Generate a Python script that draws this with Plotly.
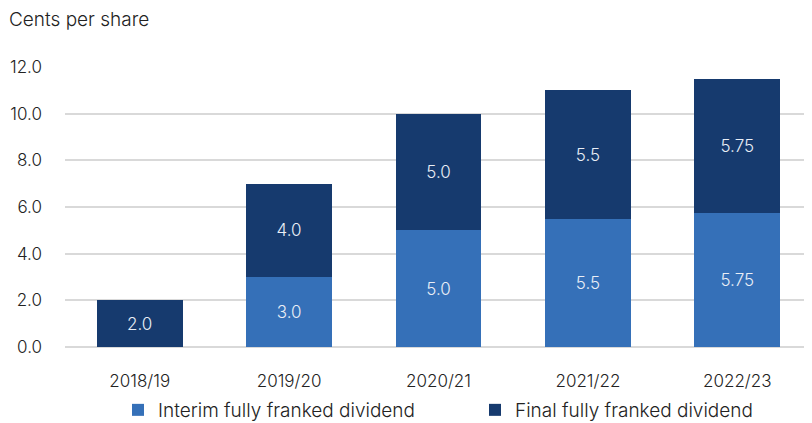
import plotly.graph_objects as go

categories = ["2018/19", "2019/20", "2020/21", "2021/22", "2022/23"]
interim = [None, 3.0, 5.0, 5.5, 5.75]
final = [2.0, 4.0, 5.0, 5.5, 5.75]
interim_labels = ["", "3.0", "5.0", "5.5", "5.75"]
final_labels = ["2.0", "4.0", "5.0", "5.5", "5.75"]
y_ticks = [0, 2, 4, 6, 8, 10, 12]

FONT = "Inter, Roboto, sans-serif"
C_INT = "#3570B8"
C_FIN = "#163A6E"
TXT = "#E9EEF6"
INK = "#222222"

fig = go.Figure()
fig.add_trace(go.Bar(
    x=categories, y=interim, name="Interim fully franked dividend",
    marker=dict(color=C_INT, line=dict(width=0)),
    text=interim_labels, textposition="inside", insidetextanchor="middle",
    textfont=dict(color=TXT, size=17, family=FONT, weight=300), hoverinfo="x+y",
    legend="legend",
))
fig.add_trace(go.Bar(
    x=categories, y=final, name="Final fully franked dividend",
    marker=dict(color=C_FIN, line=dict(width=0)),
    text=final_labels, textposition="inside", insidetextanchor="middle",
    textfont=dict(color=TXT, size=17, family=FONT, weight=300), hoverinfo="x+y",
    legend="legend2",
))

# page body has an 8px margin, so the figure is drawn from (8, 8)
OFF = 8
W = 747.0
H = 280.0
L = 65 - OFF
T = 67 - OFF
FIG_W = 812 - OFF
FIG_H = 423 - OFF

leg_common = dict(orientation="h", yanchor="middle", y=(347 - 410) / H,
                  font=dict(size=19, color=INK, family=FONT, weight=300),
                  itemwidth=30, bgcolor="rgba(0,0,0,0)")

fig.update_layout(
    width=FIG_W, height=FIG_H,
    barmode="stack", bargap=0.425,
    margin=dict(l=L, r=FIG_W - L - int(W), t=T, b=FIG_H - T - int(H), autoexpand=False),
    paper_bgcolor="white", plot_bgcolor="white",
    font=dict(family=FONT, color=INK, size=17, weight=300),
    showlegend=True,
    legend=dict(x=(118 - 65) / W, xanchor="left", **leg_common),
    legend2=dict(x=(475 - 65) / W, xanchor="left", **leg_common),
    xaxis=dict(type="category", range=[-0.5, 4.5], showgrid=False, showline=False,
               ticks="", tickfont=dict(size=17, color=INK, family=FONT, weight=300),
               ticklabelstandoff=22),
    yaxis=dict(range=[0, 12], tickvals=y_ticks, tickformat=".1f", showgrid=True,
               gridcolor="#D9D9D9", gridwidth=2, zeroline=True, zerolinecolor="#D9D9D9",
               zerolinewidth=2, showline=False, ticks="", ticklabelstandoff=22,
               tickfont=dict(size=17, color=INK, family=FONT, weight=300)),
    annotations=[dict(text="Cents per share", xref="paper", yref="paper",
                      x=-(L + 1) / W, xanchor="left", y=1 + 47 / H, yanchor="middle",
                      showarrow=False,
                      font=dict(size=19, color=INK, family=FONT, weight=300))],
)

fig.write_html("out.html")
